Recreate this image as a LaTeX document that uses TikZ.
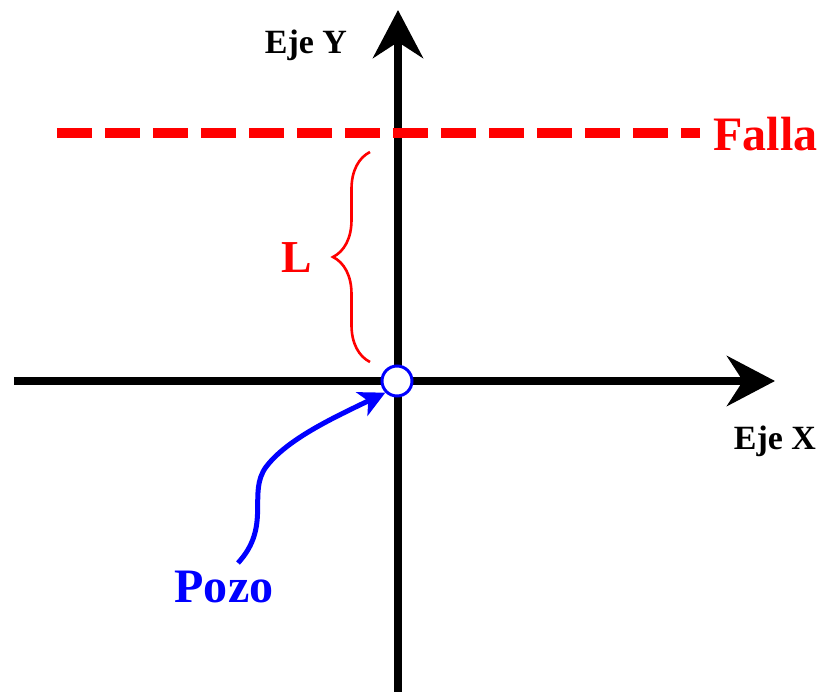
\documentclass[tikz,border=0pt]{standalone}
\usepackage{fontspec}
\setmainfont{Liberation Serif}
\usetikzlibrary{arrows.meta,decorations.pathreplacing}
\begin{document}
\begin{tikzpicture}[x=0.03cm,y=0.03cm,thick,
	achse/.style={line width=8*0.03cm,-{Stealth[length=48*0.03cm,width=50*0.03cm,inset=16*0.03cm]}},
	beschr/.style={font=\bfseries\fontsize{29}{29}\selectfont,text=black}]
	
	\useasboundingbox (-397,-311) rectangle (431,381);
	
	%Achsen
	\draw[achse] (-383,0) -- (378,0);
	\draw[achse] (1,-311) -- (1,371);
	\node[beschr] (ejex) at (378,-60) {Eje X};
	\node[beschr] (ejey) at (-91,336) {Eje Y};
	
	%Falla
	\begin{scope}[red]
		\draw[line width=10*0.03cm,dash pattern=on 35*0.03cm off 13*0.03cm] (-340,248) -- (303,248);
		\node[anchor=west,font=\bfseries\fontsize{41}{41}\selectfont] (falla) at (312,247) {Falla};
		
		\draw[line width=2.6*0.03cm,decorate,decoration={brace,amplitude=37*0.03cm}] (-27,19) -- (-27,229);
		\node[font=\bfseries\fontsize{39}{39}\selectfont] (L) at (-100,123) {L};
	\end{scope}
	
	%Pozo
	\node[circle,draw=blue,fill=white,line width=3*0.03cm,minimum size=30*0.03cm,inner sep=0] (pozo) at (0,0) {};
	\node[text=blue,font=\bfseries\fontsize{41}{41}\selectfont] (pozotxt) at (-173,-206) {Pozo};
	\draw[blue,line width=5*0.03cm,-{Stealth[length=26*0.03cm,width=26*0.03cm,inset=7*0.03cm]}]
	(-159,-182) .. controls (-125,-145) and (-150,-112) .. (-131,-86)
	.. controls (-110,-58) and (-62,-36) .. (pozo.south west);
	
\end{tikzpicture}
\end{document}
